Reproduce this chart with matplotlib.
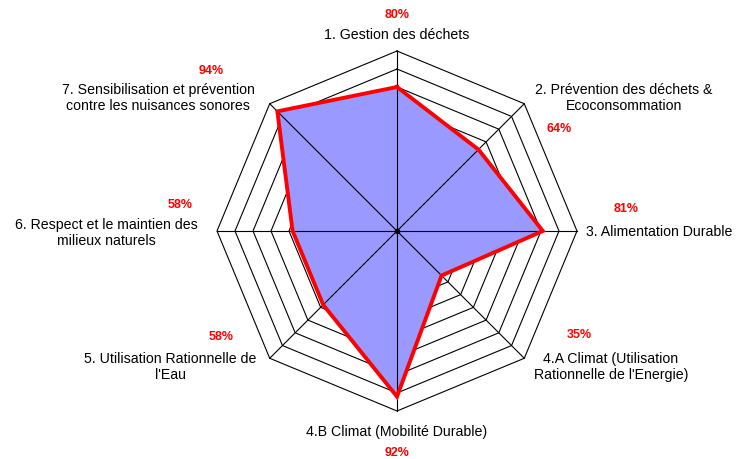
import numpy as np
import matplotlib
matplotlib.use('Agg')
import matplotlib.pyplot as plt

plt.rcParams['font.family'] = ['Liberation Sans', 'DejaVu Sans']

# données
categories = ['1. Gestion des déchets',
              '2. Prévention des déchets &\nEcoconsommation',
              '3. Alimentation Durable',
              "4.A Climat (Utilisation\nRationnelle de l'Energie)",
              '4.B Climat (Mobilité Durable)',
              "5. Utilisation Rationnelle de\nl'Eau",
              '6. Respect et le maintien des\nmilieux naturels',
              '7. Sensibilisation et prévention\ncontre les nuisances sonores']
values = [80, 64, 81, 35, 92, 58, 58, 94]
pct_labels = ['80%', '64%', '81%', '35%', '92%', '58%', '58%', '94%']
rings = [0.1, 0.2, 0.3, 0.4, 0.5, 0.6, 0.7, 0.8, 0.9, 1.0]

# mise en page (pixels)
W, H = 741, 460
cx, cy, R = 397, 232, 180
cat_pos = [(397, 35, 'center'), (624, 98, 'center'), (586, 232, 'left'),
           (611, 367, 'center'), (397, 432, 'center'), (170, 367, 'center'),
           (106, 233, 'center'), (158, 98, 'center')]
pct_pos = [(397, 15), (559, 129), (626, 209), (579, 335),
           (397, 453), (221, 337), (180, 205), (211, 71)]

fig = plt.figure(figsize=(W / 100, H / 100), dpi=100)
ax = fig.add_axes([0, 0, 1, 1])
ax.set_xlim(-cx / R, (W - cx) / R)
ax.set_ylim(-(H - cy) / R, cy / R)
ax.axis('off')

n = len(values)
theta = np.deg2rad(90 - 45 * np.arange(n))
ct, st = np.cos(theta), np.sin(theta)

# grille octogonale
for r in rings:
    ax.plot(np.append(r * ct, r * ct[0]), np.append(r * st, r * st[0]),
            color='black', lw=0.8, zorder=1)

# série
v = np.array(values) / 100.0
xs, ys = np.append(v * ct, v[0] * ct[0]), np.append(v * st, v[0] * st[0])
ax.fill(xs, ys, color='#9999FF', zorder=2)
ax.plot(xs, ys, color='#FF0000', lw=2.8, solid_joinstyle='miter', zorder=3)
# axes au dessus du remplissage
for i in range(n):
    ax.plot([0, ct[i]], [0, st[i]], color='black', lw=0.8, zorder=2.5)
ax.plot([0], [0], 'o', color='black', ms=3, zorder=4)

for (px, py, ha), lab in zip(cat_pos, categories):
    fig.text(px / W, 1 - py / H, lab, ha=ha, va='center', fontsize=10.2,
             multialignment='center', linespacing=1.15)
for (px, py), lab in zip(pct_pos, pct_labels):
    fig.text(px / W, 1 - py / H, lab, ha='center', va='center', fontsize=9,
             fontweight='bold', color='#FF0000')

plt.savefig('out.png', dpi=100)
